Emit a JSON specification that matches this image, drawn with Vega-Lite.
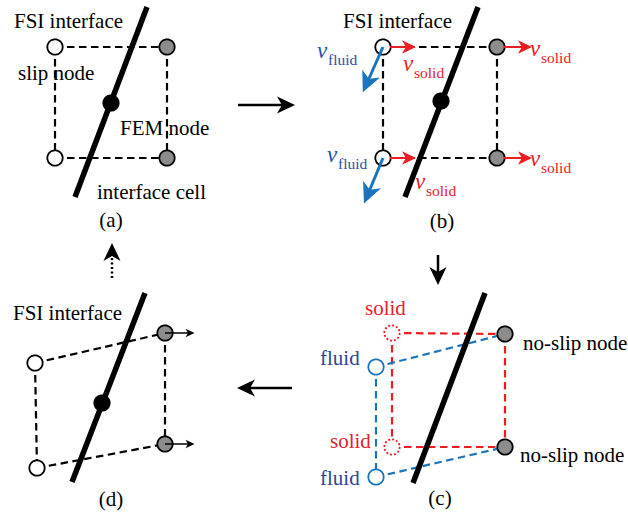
{
  "$schema": "https://vega.github.io/schema/vega-lite/v6.json",
  "width": 628,
  "height": 520,
  "autosize": {"type": "fit", "contains": "padding"},
  "padding": 0,
  "background": "white",
  "config": {"view": {"stroke": null}, "axis": {"disable": true}, "legend": {"disable": true}},
  "datasets": {
    "iface": [
      {"x": 147, "y": 7, "x2": 75, "y2": 197},
      {"x": 478, "y": 7, "x2": 405, "y2": 197},
      {"x": 485, "y": 293, "x2": 413, "y2": 483},
      {"x": 145, "y": 293, "x2": 72, "y2": 482}
    ],
    "links": [
      {"x": 55, "y": 47, "x2": 167, "y2": 47, "phase": "structure"},
      {"x": 55, "y": 158, "x2": 167, "y2": 158, "phase": "structure"},
      {"x": 55, "y": 47, "x2": 55, "y2": 158, "phase": "structure"},
      {"x": 167, "y": 47, "x2": 167, "y2": 158, "phase": "structure"},
      {"x": 383, "y": 47, "x2": 497, "y2": 47, "phase": "structure"},
      {"x": 383, "y": 158, "x2": 497, "y2": 158, "phase": "structure"},
      {"x": 383, "y": 47, "x2": 383, "y2": 158, "phase": "structure"},
      {"x": 497, "y": 47, "x2": 497, "y2": 158, "phase": "structure"},
      {"x": 392, "y": 333, "x2": 505, "y2": 334, "phase": "solid"},
      {"x": 392, "y": 447, "x2": 505, "y2": 447, "phase": "solid"},
      {"x": 392, "y": 333, "x2": 392, "y2": 447, "phase": "solid"},
      {"x": 505, "y": 334, "x2": 505, "y2": 447, "phase": "solid"},
      {"x": 376, "y": 367, "x2": 505, "y2": 334, "phase": "fluid"},
      {"x": 376, "y": 477, "x2": 505, "y2": 447, "phase": "fluid"},
      {"x": 376, "y": 367, "x2": 376, "y2": 477, "phase": "fluid"},
      {"x": 35, "y": 363, "x2": 165, "y2": 333, "phase": "structure"},
      {"x": 37, "y": 468, "x2": 165, "y2": 444, "phase": "structure"},
      {"x": 35, "y": 363, "x2": 37, "y2": 468, "phase": "structure"},
      {"x": 165, "y": 333, "x2": 165, "y2": 444, "phase": "structure"}
    ],
    "nodes": [
      {"x": 55, "y": 47, "node": "slip"},
      {"x": 55, "y": 158, "node": "slip"},
      {"x": 167, "y": 47, "node": "fem"},
      {"x": 167, "y": 158, "node": "fem"},
      {"x": 111, "y": 103, "node": "center"},
      {"x": 383, "y": 47, "node": "slip"},
      {"x": 383, "y": 158, "node": "slip"},
      {"x": 497, "y": 47, "node": "fem"},
      {"x": 497, "y": 158, "node": "fem"},
      {"x": 441, "y": 101, "node": "center"},
      {"x": 392, "y": 333, "node": "solid"},
      {"x": 392, "y": 447, "node": "solid"},
      {"x": 505, "y": 334, "node": "fem"},
      {"x": 505, "y": 447, "node": "fem"},
      {"x": 376, "y": 367, "node": "fluid"},
      {"x": 376, "y": 477, "node": "fluid"},
      {"x": 35, "y": 363, "node": "slip"},
      {"x": 37, "y": 468, "node": "slip"},
      {"x": 165, "y": 333, "node": "fem"},
      {"x": 165, "y": 444, "node": "fem"},
      {"x": 102, "y": 403, "node": "center"}
    ],
    "arrows": [
      {"kind": "transition", "link": "forward", "phase": "structure", "x": 238, "y": 105, "x2": 286, "y2": 105, "hx": 286, "hy": 105, "ang": 90},
      {"kind": "transition", "link": "forward", "phase": "structure", "x": 438, "y": 255, "x2": 438, "y2": 276, "hx": 438, "hy": 276, "ang": 180},
      {"kind": "transition", "link": "forward", "phase": "structure", "x": 292, "y": 388, "x2": 246, "y2": 388, "hx": 246, "hy": 388, "ang": 270},
      {"kind": "transition", "link": "feedback", "phase": "structure", "x": 112, "y": 278, "x2": 112, "y2": 256, "hx": 112, "hy": 252, "ang": 0},
      {"kind": "solid-velocity", "link": "forward", "phase": "solid", "x": 390, "y": 47, "x2": 409, "y2": 47, "hx": 409, "hy": 47, "ang": 90},
      {"kind": "solid-velocity", "link": "forward", "phase": "solid", "x": 504, "y": 47, "x2": 525, "y2": 47, "hx": 525, "hy": 47, "ang": 90},
      {"kind": "solid-velocity", "link": "forward", "phase": "solid", "x": 390, "y": 158, "x2": 409, "y2": 158, "hx": 409, "hy": 158, "ang": 90},
      {"kind": "solid-velocity", "link": "forward", "phase": "solid", "x": 504, "y": 158, "x2": 525, "y2": 158, "hx": 525, "hy": 158, "ang": 90},
      {"kind": "fluid-velocity", "link": "forward", "phase": "fluid", "x": 383, "y": 47, "x2": 367, "y2": 83, "hx": 367, "hy": 83, "ang": 204},
      {"kind": "fluid-velocity", "link": "forward", "phase": "fluid", "x": 383, "y": 158, "x2": 368, "y2": 194, "hx": 368, "hy": 194, "ang": 203},
      {"kind": "node-update", "link": "forward", "phase": "structure", "x": 165, "y": 333, "x2": 190, "y2": 333, "hx": 190, "hy": 333, "ang": 90},
      {"kind": "node-update", "link": "forward", "phase": "structure", "x": 165, "y": 444, "x2": 190, "y2": 444, "hx": 190, "hy": 444, "ang": 90}
    ],
    "labels": [
      {"t": "FSI interface", "x": 14, "y": 28, "phase": "structure"},
      {"t": "slip node", "x": 18, "y": 80, "phase": "structure"},
      {"t": "FEM node", "x": 120, "y": 135, "phase": "structure"},
      {"t": "interface cell", "x": 97, "y": 199, "phase": "structure"},
      {"t": "FSI interface", "x": 343, "y": 28, "phase": "structure"},
      {"t": "FSI interface", "x": 13, "y": 320, "phase": "structure"},
      {"t": "solid", "x": 365, "y": 315, "phase": "solid"},
      {"t": "fluid", "x": 320, "y": 365, "phase": "fluid"},
      {"t": "solid", "x": 330, "y": 448, "phase": "solid"},
      {"t": "fluid", "x": 320, "y": 485, "phase": "fluid"},
      {"t": "no-slip node", "x": 523, "y": 350, "phase": "structure"},
      {"t": "no-slip node", "x": 520, "y": 462, "phase": "structure"}
    ],
    "captions": [
      {"t": "(a)", "x": 111, "y": 227},
      {"t": "(b)", "x": 442, "y": 228},
      {"t": "(c)", "x": 440, "y": 505},
      {"t": "(d)", "x": 111, "y": 506}
    ],
    "vsym": [
      {"t": "v", "x": 317, "y": 58, "phase": "fluid"},
      {"t": "v", "x": 403, "y": 71, "phase": "solid"},
      {"t": "v", "x": 530, "y": 56, "phase": "solid"},
      {"t": "v", "x": 327, "y": 162, "phase": "fluid"},
      {"t": "v", "x": 530, "y": 166, "phase": "solid"},
      {"t": "v", "x": 415, "y": 189, "phase": "solid"}
    ],
    "subs": [
      {"t": "fluid", "x": 328, "y": 65, "phase": "fluid"},
      {"t": "solid", "x": 414, "y": 78, "phase": "solid"},
      {"t": "solid", "x": 541, "y": 63, "phase": "solid"},
      {"t": "fluid", "x": 338, "y": 169, "phase": "fluid"},
      {"t": "solid", "x": 541, "y": 173, "phase": "solid"},
      {"t": "solid", "x": 426, "y": 196, "phase": "solid"}
    ]
  },
  "encoding": {
    "x": {"field": "x", "type": "quantitative", "scale": {"domain": [0, 628], "nice": false, "zero": false}, "axis": null},
    "y": {"field": "y", "type": "quantitative", "scale": {"domain": [0, 520], "nice": false, "zero": false, "reverse": true}, "axis": null}
  },
  "resolve": {"scale": {"color": "independent", "strokeDash": "independent"}},
  "layer": [
    {
      "data": {"name": "links"},
      "mark": {"type": "rule", "strokeWidth": 2.2, "strokeDash": [7.5, 4.5]},
      "encoding": {
        "x2": {"field": "x2"},
        "y2": {"field": "y2"},
        "color": {"field": "phase", "type": "nominal", "scale": {"domain": ["structure", "solid", "fluid"], "range": ["#000000", "#ec1c24", "#1c75bc"]}, "legend": null}
      }
    },
    {
      "data": {"name": "iface"},
      "mark": {"type": "rule", "strokeWidth": 5.5, "color": "#000000"},
      "encoding": {"x2": {"field": "x2"}, "y2": {"field": "y2"}}
    },
    {
      "data": {"name": "nodes"},
      "mark": {"type": "point", "shape": "circle", "size": 235, "strokeWidth": 1.8, "filled": true, "opacity": 1, "fillOpacity": 1, "strokeOpacity": 1},
      "encoding": {
        "fill": {"field": "node", "type": "nominal", "scale": {"domain": ["slip", "fem", "center", "solid", "fluid"], "range": ["#ffffff", "#8c8c8c", "#000000", "#ffffff", "#ffffff"]}, "legend": null},
        "stroke": {"field": "node", "type": "nominal", "scale": {"domain": ["slip", "fem", "center", "solid", "fluid"], "range": ["#000000", "#000000", "#000000", "#ec1c24", "#1c75bc"]}, "legend": null},
        "strokeDash": {"field": "node", "type": "nominal", "scale": {"domain": ["slip", "fem", "center", "solid", "fluid"], "range": [[1, 0], [1, 0], [1, 0], [2, 2], [1, 0]]}, "legend": null}
      }
    },
    {
      "data": {"name": "arrows"},
      "transform": [{"filter": "datum.kind === 'transition'"}],
      "layer": [
        {
          "mark": {"type": "rule", "strokeWidth": 2.5},
          "encoding": {
            "x2": {"field": "x2"}, "y2": {"field": "y2"},
            "color": {"field": "phase", "type": "nominal", "scale": {"domain": ["structure", "solid", "fluid"], "range": ["#000000", "#ec1c24", "#1c75bc"]}, "legend": null},
            "strokeDash": {"field": "link", "type": "nominal", "scale": {"domain": ["forward", "feedback"], "range": [[1, 0], [2, 2.5]]}, "legend": null}
          }
        },
        {
          "mark": {"type": "point", "shape": "M0,-1L0.95,1L0,0.45L-0.95,1Z", "size": 324, "filled": true, "opacity": 1, "strokeWidth": 0},
          "encoding": {
            "x": {"field": "hx", "type": "quantitative"},
            "y": {"field": "hy", "type": "quantitative"},
            "angle": {"field": "ang", "type": "quantitative", "scale": {"domain": [0, 360], "range": [0, 360]}},
            "color": {"field": "phase", "type": "nominal", "scale": {"domain": ["structure", "solid", "fluid"], "range": ["#000000", "#ec1c24", "#1c75bc"]}, "legend": null}
          }
        }
      ]
    },
    {
      "data": {"name": "arrows"},
      "transform": [{"filter": "datum.kind === 'solid-velocity'"}],
      "layer": [
        {
          "mark": {"type": "rule", "strokeWidth": 2},
          "encoding": {
            "x2": {"field": "x2"}, "y2": {"field": "y2"},
            "color": {"field": "phase", "type": "nominal", "scale": {"domain": ["structure", "solid", "fluid"], "range": ["#000000", "#ec1c24", "#1c75bc"]}, "legend": null}
          }
        },
        {
          "mark": {"type": "point", "shape": "M0,-1L0.95,1L0,0.45L-0.95,1Z", "size": 196, "filled": true, "opacity": 1, "strokeWidth": 0},
          "encoding": {
            "x": {"field": "hx", "type": "quantitative"},
            "y": {"field": "hy", "type": "quantitative"},
            "angle": {"field": "ang", "type": "quantitative", "scale": {"domain": [0, 360], "range": [0, 360]}},
            "color": {"field": "phase", "type": "nominal", "scale": {"domain": ["structure", "solid", "fluid"], "range": ["#000000", "#ec1c24", "#1c75bc"]}, "legend": null}
          }
        }
      ]
    },
    {
      "data": {"name": "arrows"},
      "transform": [{"filter": "datum.kind === 'fluid-velocity'"}],
      "layer": [
        {
          "mark": {"type": "rule", "strokeWidth": 3},
          "encoding": {
            "x2": {"field": "x2"}, "y2": {"field": "y2"},
            "color": {"field": "phase", "type": "nominal", "scale": {"domain": ["structure", "solid", "fluid"], "range": ["#000000", "#ec1c24", "#1c75bc"]}, "legend": null}
          }
        },
        {
          "mark": {"type": "point", "shape": "M0,-1L0.95,1L0,0.45L-0.95,1Z", "size": 420, "filled": true, "opacity": 1, "strokeWidth": 0},
          "encoding": {
            "x": {"field": "hx", "type": "quantitative"},
            "y": {"field": "hy", "type": "quantitative"},
            "angle": {"field": "ang", "type": "quantitative", "scale": {"domain": [0, 360], "range": [0, 360]}},
            "color": {"field": "phase", "type": "nominal", "scale": {"domain": ["structure", "solid", "fluid"], "range": ["#000000", "#ec1c24", "#1c75bc"]}, "legend": null}
          }
        }
      ]
    },
    {
      "data": {"name": "arrows"},
      "transform": [{"filter": "datum.kind === 'node-update'"}],
      "layer": [
        {
          "mark": {"type": "rule", "strokeWidth": 1.5},
          "encoding": {
            "x2": {"field": "x2"}, "y2": {"field": "y2"},
            "color": {"field": "phase", "type": "nominal", "scale": {"domain": ["structure", "solid", "fluid"], "range": ["#000000", "#ec1c24", "#1c75bc"]}, "legend": null}
          }
        },
        {
          "mark": {"type": "point", "shape": "M0,-1L0.95,1L0,0.45L-0.95,1Z", "size": 81, "filled": true, "opacity": 1, "strokeWidth": 0},
          "encoding": {
            "x": {"field": "hx", "type": "quantitative"},
            "y": {"field": "hy", "type": "quantitative"},
            "angle": {"field": "ang", "type": "quantitative", "scale": {"domain": [0, 360], "range": [0, 360]}},
            "color": {"field": "phase", "type": "nominal", "scale": {"domain": ["structure", "solid", "fluid"], "range": ["#000000", "#ec1c24", "#1c75bc"]}, "legend": null}
          }
        }
      ]
    },
    {
      "data": {"name": "labels"},
      "mark": {"type": "text", "font": "Liberation Serif", "fontSize": 21, "align": "left", "baseline": "alphabetic"},
      "encoding": {
        "text": {"field": "t"},
        "color": {"field": "phase", "type": "nominal", "scale": {"domain": ["structure", "solid", "fluid"], "range": ["#000000", "#e8202a", "#2e4597"]}, "legend": null}
      }
    },
    {
      "data": {"name": "captions"},
      "mark": {"type": "text", "font": "Liberation Serif", "fontSize": 21, "align": "center", "baseline": "alphabetic", "color": "#000000"},
      "encoding": {"text": {"field": "t"}}
    },
    {
      "data": {"name": "vsym"},
      "mark": {"type": "text", "font": "Liberation Serif", "fontSize": 23, "fontStyle": "italic", "align": "left", "baseline": "alphabetic"},
      "encoding": {
        "text": {"field": "t"},
        "color": {"field": "phase", "type": "nominal", "scale": {"domain": ["structure", "solid", "fluid"], "range": ["#000000", "#e8202a", "#2e4fa0"]}, "legend": null}
      }
    },
    {
      "data": {"name": "subs"},
      "mark": {"type": "text", "font": "Liberation Serif", "fontSize": 15.5, "align": "left", "baseline": "alphabetic"},
      "encoding": {
        "text": {"field": "t"},
        "color": {"field": "phase", "type": "nominal", "scale": {"domain": ["structure", "solid", "fluid"], "range": ["#000000", "#e8202a", "#2e4fa0"]}, "legend": null}
      }
    }
  ]
}
